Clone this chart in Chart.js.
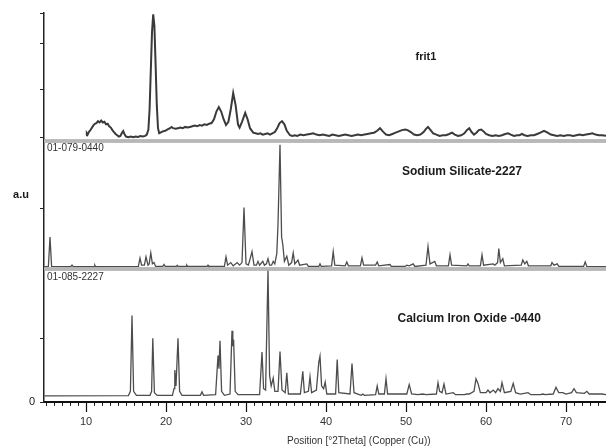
<!DOCTYPE html>
<html lang="en">
<head>
<meta charset="UTF-8" />
<title>XRD | frit1</title>
<script src="https://cdn.jsdelivr.net/npm/chart.js"></script>
<style>
  html, body { margin: 0; padding: 0; background: #fff; }
  #wrap { width: 606px; height: 448px; }
</style>
</head>
<body>
<div id="wrap"><canvas id="xrd"></canvas></div>
<script>
  // measured pattern (top panel), 2theta vs relative intensity
  const fritX = [10.0,10.1,10.2,10.35,10.5,10.7,10.9,11.1,11.3,11.5,11.7,11.9,12.1,12.3,12.5,12.7,12.9,13.1,13.3,13.5,13.7,13.9,14.1,14.3,14.5,14.65,14.8,15.0,15.3,15.6,15.9,16.2,16.5,16.8,17.1,17.4,17.6,17.8,17.95,18.1,18.25,18.4,18.55,18.7,18.85,19.0,19.15,19.3,19.6,19.9,20.2,20.5,20.7,20.9,21.2,21.5,21.8,22.1,22.4,22.7,23.0,23.3,23.6,23.9,24.2,24.5,24.8,25.1,25.4,25.7,26.0,26.3,26.6,26.9,27.2,27.5,27.8,28.1,28.4,28.7,29.0,29.2,29.5,29.9,30.2,30.5,30.9,31.2,31.5,31.8,32.1,32.4,32.7,33.0,33.3,33.6,33.9,34.2,34.5,34.8,35.1,35.5,35.8,36.1,36.4,36.8,37.2,37.6,38.0,38.4,38.8,39.2,39.6,40.0,40.4,40.8,41.2,41.6,42.0,42.4,42.8,43.2,43.6,44.0,44.4,44.8,45.2,45.6,46.0,46.4,46.75,47.1,47.5,47.9,48.3,48.7,49.1,49.5,49.9,50.2,50.6,51.0,51.4,51.8,52.2,52.5,52.75,53.0,53.4,53.8,54.2,54.6,55.0,55.4,55.75,56.1,56.5,56.9,57.3,57.6,57.9,58.2,58.5,58.8,59.1,59.4,59.7,60.0,60.4,60.8,61.2,61.6,62.0,62.4,62.75,63.1,63.5,63.9,64.2,64.5,64.8,65.2,65.6,66.0,66.4,66.8,67.25,67.7,68.1,68.5,68.9,69.3,69.7,70.1,70.5,70.9,71.3,71.7,72.1,72.5,72.9,73.3,73.7,74.1,74.5,75.0];
  const fritY = [4.5,6,5,7,8,10,12,13.5,14,15.5,14.5,16,14.5,15,13,13.5,11.5,10.5,8.5,7,5.5,4.5,3.5,4,6.5,7.8,5.5,3.5,3,3.5,3,3.5,3.2,3.8,3.5,4,5,9,25,55,85,99,90,60,28,10,6,6.5,7.5,8,9,10,11,10,9.5,10,10.5,10,11,10.5,11,11.5,12,11.5,12.5,12,13,12.5,13.5,14,17,23,26.5,23,17,12.5,15,25,37.5,28,13,10.5,15,22,17,10,6.5,6,5.5,6,5,5.5,6,5,6,7,10,14,15.5,13,8,4.5,4,4.5,4,5,4.5,5,5.5,6,5,4.5,5,4.5,4,5,4.5,4,4.5,5,4.5,4,4.5,5,4.5,5,5.5,6,6.5,8,10,7.5,5,4.5,5.5,6.5,7.5,8.5,9,8.5,7,5,4.5,5,7,9.5,11,9,6,5,4,4.5,4.5,5.5,6.5,5,4,4.5,6,8.5,10,7,5,6.5,8.5,9,7.5,5.5,4.5,4,4.5,4,4.5,5.5,6,5,4,4.5,4.5,5.5,4.5,4,4.5,4.5,5.5,6.5,8,6.5,5,4.5,4,4.5,4,4.5,4.5,4,4.5,5,4.5,5,5.5,6,5,4.5,4.5,4];

  // reference 01-079-0440 (middle panel)
  const silicateX = [4.8,5.3,5.5,5.7,8.1,8.25,8.4,11.0,11.1,11.2,16.55,16.75,16.95,17.3,17.5,17.75,17.9,18.1,18.3,18.5,18.7,19.6,19.75,19.9,21.3,21.4,21.5,22.5,22.6,22.7,25.15,25.25,25.35,27.3,27.5,27.7,28.1,28.4,28.9,29.2,29.5,29.75,30.0,30.3,30.75,31.0,31.3,31.5,31.7,32.1,32.3,32.55,32.75,32.95,33.2,33.4,33.6,33.85,34.0,34.25,34.45,34.6,34.8,35.1,35.35,35.7,35.9,36.1,36.5,36.7,37.6,37.8,39.1,39.25,39.4,40.7,40.9,41.1,42.4,42.6,42.8,44.3,44.5,44.7,46.2,46.4,46.6,48.0,48.15,49.9,50.1,50.4,50.9,51.1,52.5,52.75,53.0,53.6,53.8,55.3,55.5,55.7,57.6,57.75,57.9,59.3,59.5,59.7,60.9,61.1,61.45,61.6,61.8,62.1,62.3,64.4,64.6,64.85,65.1,65.3,68.1,68.25,68.5,68.9,69.1,72.2,72.4,72.6,75.0];
  const silicateY = [1.8,2,25,2,1.8,3,1.8,1.8,3,1.8,2,8.5,3,3,9.5,3,4,12.5,4,5,2,2,3.5,2,2,2.8,2,2,3,2,2,3,2,2,9.5,3,5,2.5,5,3,5,48,4,3,13.5,3,3,6,3,6,3,4,8,3,3,6,4,12,35,97,25,19,6,10,3,5,12.5,4,7,3,4,2,2,4,2,2.5,13.5,3,2.5,5.5,2.5,2.5,8.7,3,3,5.5,2.5,3.5,2,2,3,2.5,4,2,3,17.5,4,6,2.5,2.5,11,3,2.5,4,2.5,2.5,11,3,4,3,5,16,5,8,2.5,3,7,4,6,2.5,2.5,5,3,4,2,2,5.5,2,1.8];

  // reference 01-085-2227 (bottom panel)
  const ironX = [4.8,15.3,15.55,15.75,15.95,16.3,18.0,18.2,18.35,18.55,18.9,20.8,21.0,21.1,21.25,21.5,21.7,22.0,24.3,24.5,24.7,26.2,26.5,26.62,26.75,26.95,27.3,28.0,28.25,28.35,28.45,28.65,29.0,31.7,32.0,32.2,32.45,32.75,32.95,33.15,33.4,33.6,34.0,34.25,34.5,34.9,35.1,35.3,36.8,37.1,37.3,37.8,38.0,38.2,38.8,39.1,39.25,39.45,39.7,39.9,40.1,41.2,41.4,41.6,43.0,43.25,43.5,44.4,44.6,44.8,46.2,46.4,46.6,47.3,47.5,47.7,50.1,50.4,50.7,51.5,52.1,52.5,53.8,54.0,54.2,54.5,54.75,55.0,55.9,56.2,57.3,57.6,57.9,58.5,58.75,59.0,59.3,60.0,60.25,60.5,60.9,61.2,61.5,61.8,62.0,62.3,63.1,63.4,63.7,64.3,65.25,65.6,66.8,67.1,67.4,68.4,68.75,69.1,69.6,70.0,70.7,71.0,71.3,72.3,72.6,72.9,74.5,75.0];
  const ironY = [4.6,4.8,8,65,8,5,5,8,48,7,5,5,10,24,12,48,8,5,5,7.6,5,5.5,35,25,46,8,5,6,53.5,42,47,8,5.5,5.5,37.5,10,9,99,20,12,18,8,8,38,9,7,22,6,6,23,7,8,19,7,9,30,34.5,12,10,15,6,6,32,7,6,29,7,5,6,5,5.5,12,6,6,17.5,6,6,13,6,5.5,6,5.5,6,14.5,8,7,13.5,6,7,5.5,5.5,6,6,8,17.5,14,7,7,9,7,9,7,10,8,14.5,7,8,14,7,6,7,5.5,5.5,6,5.5,6,11,7,7,6,7,10,7,6.5,8,6,6,5.5];

  // axis ticks (marks only, no numbers except the 0)
  const ticksTop = [3, 40.5, 76.5, 100];
  const ticksMid = [47.6];
  const ticksBot = [0, 48];

  const zip = (xs, ys) => xs.map((x, i) => ({ x: x, y: ys[i] }));

  const panelLabels = {
    id: "panelLabels",
    afterDraw(chart) {
      const { ctx, chartArea, scales } = chart;
      const x = scales.x, yA = scales.yA, yB = scales.yB, yC = scales.yC;
      ctx.save();

      // double grey separators between the panels
      [yA.bottom, yB.bottom].forEach(y => {
        ctx.fillStyle = "#e2e2e2";
        ctx.fillRect(chartArea.left, y - 1.5, chartArea.right - chartArea.left, 3);
        ctx.fillStyle = "#8c8c8c";
        ctx.fillRect(chartArea.left, y - 1.5, chartArea.right - chartArea.left, 1);
        ctx.fillRect(chartArea.left, y + 0.5, chartArea.right - chartArea.left, 1);
      });

      // longer major ticks on the 2theta axis
      ctx.strokeStyle = "#111";
      ctx.lineWidth = 1.2;
      for (let v = 10; v <= 70; v += 10) {
        const px = Math.round(x.getPixelForValue(v)) + 0.5;
        ctx.beginPath();
        ctx.moveTo(px, chartArea.bottom);
        ctx.lineTo(px, chartArea.bottom + 10);
        ctx.stroke();
      }

      ctx.fillStyle = "#1a1a1a";
      ctx.textAlign = "center";
      ctx.textBaseline = "middle";
      ctx.font = "bold 11px 'Liberation Sans', Arial, sans-serif";
      ctx.fillText("frit1", x.getPixelForValue(52.5), yA.getPixelForValue(66));
      ctx.font = "bold 12px 'Liberation Sans', Arial, sans-serif";
      ctx.fillText("Sodium Silicate-2227", x.getPixelForValue(57), yB.getPixelForValue(76));
      ctx.fillText("Calcium Iron Oxide -0440", x.getPixelForValue(57.9), yC.getPixelForValue(62.6));
      ctx.font = "bold 11px 'Liberation Sans', Arial, sans-serif";
      ctx.fillText("a.u", 21, yB.getPixelForValue(58));

      ctx.font = "10px 'Liberation Sans', Arial, sans-serif";
      ctx.fillStyle = "#333";
      ctx.fillText("Position [°2Theta] (Copper (Cu))", x.getPixelForValue(44.1), 441);

      ctx.textAlign = "left";
      ctx.fillText("01-079-0440", chartArea.left + 3, yB.top + 7);
      ctx.fillText("01-085-2227", chartArea.left + 3, yC.top + 8);
      ctx.restore();
    }
  };

  function yScale(weight, stackWeight, tickVals, showZero) {
    return {
      type: "linear",
      position: "left",
      stack: "xrd",
      weight: weight,
      stackWeight: stackWeight,
      min: 0,
      max: 100,
      afterBuildTicks: s => { s.ticks = tickVals.map(v => ({ value: v })); },
      afterFit: s => { s.width = 44; },
      ticks: {
        display: showZero,
        padding: 5,
        color: "#222",
        font: { size: 11, family: "'Liberation Sans', Arial, sans-serif" },
        callback: v => (v === 0 ? "0" : "")
      },
      grid: { drawOnChartArea: false, drawTicks: true, tickLength: 4, color: "#222" },
      border: { display: true, color: "#222", width: 1.5 }
    };
  }

  new Chart(document.getElementById("xrd"), {
    type: "line",
    data: {
      datasets: [
        { label: "frit1", data: zip(fritX, fritY), yAxisID: "yA", borderColor: "#3a3a3a", borderWidth: 2 },
        { label: "Sodium Silicate-2227", data: zip(silicateX, silicateY), yAxisID: "yB", borderColor: "#4d4d4d", borderWidth: 1.3 },
        { label: "Calcium Iron Oxide -0440", data: zip(ironX, ironY), yAxisID: "yC", borderColor: "#4d4d4d", borderWidth: 1.3 }
      ]
    },
    options: {
      responsive: true,
      maintainAspectRatio: false,
      animation: false,
      devicePixelRatio: 1,
      layout: { padding: { top: 13, right: 0, left: 0, bottom: 0 } },
      elements: { point: { radius: 0 }, line: { tension: 0 } },
      plugins: { legend: { display: false }, tooltip: { enabled: false } },
      scales: {
        x: {
          type: "linear",
          position: "bottom",
          min: 4.75,
          max: 75,
          afterFit: s => { s.height = 46; s.paddingLeft = 0; s.paddingRight = 0; },
          ticks: {
            stepSize: 1,
            autoSkip: false,
            includeBounds: false,
            maxRotation: 0,
            padding: 9,
            color: "#333",
            font: { size: 11, family: "'Liberation Sans', Arial, sans-serif" },
            callback: v => (v % 10 === 0 ? String(v) : "")
          },
          grid: { drawOnChartArea: false, tickLength: 4, color: "#222" },
          border: { color: "#111", width: 2 }
        },
        yA: yScale(3, 128, ticksTop, false),
        yB: yScale(2, 128, ticksMid, false),
        yC: yScale(1, 133, ticksBot, true)
      }
    },
    plugins: [panelLabels]
  });
</script>
</body>
</html>
